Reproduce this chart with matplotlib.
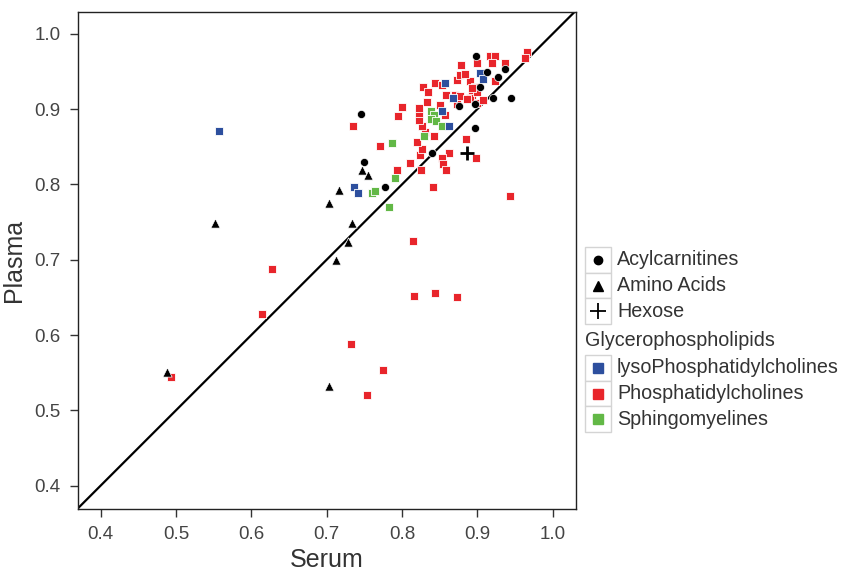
import matplotlib
matplotlib.use("Agg")
import matplotlib.pyplot as plt
from matplotlib.lines import Line2D
from matplotlib.patches import Rectangle

plt.rcParams["font.family"] = ["Liberation Sans", "DejaVu Sans"]

# Serum vs plasma values
acyl_serum = [0.745, 0.749, 0.778, 0.840, 0.876, 0.897, 0.897, 0.898, 0.913,
              0.937, 0.927, 0.904, 0.921, 0.945]
acyl_plasma = [0.893, 0.830, 0.796, 0.842, 0.904, 0.907, 0.875, 0.970, 0.949,
               0.953, 0.943, 0.929, 0.915, 0.915]

amino_serum = [0.552, 0.488, 0.703, 0.716, 0.703, 0.734, 0.728, 0.713, 0.747, 0.755]
amino_plasma = [0.749, 0.551, 0.533, 0.792, 0.776, 0.749, 0.723, 0.700, 0.819, 0.812]

hexose_serum = [0.886]
hexose_plasma = [0.842]

lyso_serum = [0.557, 0.737, 0.742, 0.857, 0.868, 0.853, 0.862, 0.904, 0.908]
lyso_plasma = [0.871, 0.796, 0.789, 0.935, 0.915, 0.898, 0.878, 0.948, 0.940]

pc_serum = [0.628, 0.614, 0.494, 0.733, 0.775, 0.753, 0.815, 0.816, 0.844, 0.873,
            0.944, 0.841, 0.735, 0.771, 0.898, 0.885, 0.863, 0.853, 0.855, 0.859,
            0.825, 0.793, 0.811, 0.824, 0.826, 0.820, 0.842, 0.831, 0.826, 0.822,
            0.822, 0.822, 0.800, 0.795, 0.833, 0.851, 0.873, 0.899, 0.908, 0.828,
            0.835, 0.844, 0.853, 0.859, 0.871, 0.877, 0.893, 0.890, 0.873, 0.890,
            0.877, 0.884, 0.878, 0.899, 0.917, 0.924, 0.919, 0.937, 0.924, 0.897,
            0.899, 0.893, 0.966, 0.963, 0.857, 0.886]
pc_plasma = [0.688, 0.628, 0.544, 0.588, 0.554, 0.520, 0.725, 0.652, 0.656, 0.651,
             0.785, 0.796, 0.878, 0.851, 0.835, 0.861, 0.842, 0.835, 0.827, 0.819,
             0.819, 0.819, 0.828, 0.839, 0.847, 0.856, 0.864, 0.870, 0.877, 0.886,
             0.895, 0.901, 0.903, 0.891, 0.910, 0.906, 0.907, 0.908, 0.912, 0.930,
             0.923, 0.935, 0.932, 0.919, 0.919, 0.917, 0.919, 0.915, 0.939, 0.937,
             0.946, 0.947, 0.958, 0.961, 0.970, 0.970, 0.961, 0.961, 0.937, 0.930,
             0.923, 0.928, 0.976, 0.968, 0.892, 0.914]

sm_serum = [0.787, 0.791, 0.760, 0.764, 0.783, 0.829, 0.839, 0.843, 0.839, 0.845, 0.853]
sm_plasma = [0.855, 0.809, 0.788, 0.791, 0.770, 0.864, 0.898, 0.892, 0.887, 0.884, 0.878]

ticks = [0.4, 0.5, 0.6, 0.7, 0.8, 0.9, 1.0]

RED = "#e8252b"
BLUE = "#2d4f9e"
GREEN = "#62b846"
TXT = "#333333"

W, H = 843, 570
fig = plt.figure(figsize=(W / 100, H / 100), dpi=100)
ax = fig.add_axes([78 / W, 1 - 509 / H, 498 / W, 497 / H])

ax.axline((0.4, 0.4), slope=1, color="black", lw=1.6, zorder=1)

sq = dict(marker="s", s=36, linewidths=0.6, edgecolors="white", zorder=2)
ax.scatter(pc_serum, pc_plasma, color=RED, **sq)
ax.scatter(sm_serum, sm_plasma, color=GREEN, **sq)
ax.scatter(lyso_serum, lyso_plasma, color=BLUE, **sq)
ax.scatter(acyl_serum, acyl_plasma, marker="o", s=34, color="black",
           edgecolors="white", linewidths=0.5, zorder=3)
ax.scatter(amino_serum, amino_plasma, marker="^", s=44, color="black",
           edgecolors="white", linewidths=0.5, zorder=3)
ax.scatter(hexose_serum, hexose_plasma, marker="+", s=110, color="black",
           linewidths=2.0, zorder=3)

ax.set_xlim(0.370, 1.031)
ax.set_ylim(0.369, 1.029)
ax.set_xticks(ticks)
ax.set_yticks(ticks)
ax.set_xticklabels([f"{t:.1f}" for t in ticks])
ax.set_yticklabels([f"{t:.1f}" for t in ticks])
ax.tick_params(direction="out", length=6, width=1, pad=6.5, labelsize=13.5,
               labelcolor="#444444", color="#333333")
for sp in ax.spines.values():
    sp.set_linewidth(1.0)
    sp.set_color("#222222")
ax.set_xlabel("Serum", fontsize=18, color=TXT, labelpad=3)
ax.set_ylabel("Plasma", fontsize=18, color=TXT, labelpad=6)

# Legend: each marker in its own light-grey box
groups = [
    [("Acylcarnitines", dict(marker="o", color="black", ms=6)),
     ("Amino Acids", dict(marker="^", color="black", ms=7)),
     ("Hexose", dict(marker="+", color="black", ms=11, mew=1.3))],
    [("lysoPhosphatidylcholines", dict(marker="s", color=BLUE, ms=6.5)),
     ("Phosphatidylcholines", dict(marker="s", color=RED, ms=6.5)),
     ("Sphingomyelines", dict(marker="s", color=GREEN, ms=6.5))],
]
box_x, box_w, box_h = 585, 26, 25.7
tops = [247, 355]
for gi, (group, top) in enumerate(zip(groups, tops)):
    for k, (label, style) in enumerate(group):
        y0 = top + k * box_h
        fig.add_artist(Rectangle((box_x / W, 1 - (y0 + box_h) / H), box_w / W, box_h / H,
                                 transform=fig.transFigure, facecolor="white",
                                 edgecolor="#d4d4d4", lw=1.0))
        yc = 1 - (y0 + box_h / 2) / H
        fig.add_artist(Line2D([(box_x + box_w / 2) / W], [yc], linestyle="none",
                              transform=fig.transFigure, **style))
        fig.text(617 / W, yc, label, fontsize=14.2, color=TXT, va="center", ha="left")
fig.text(585 / W, 1 - 340 / H, "Glycerophospholipids", fontsize=14.2, color=TXT,
         va="center", ha="left")

fig.savefig("out.png", dpi=100)
